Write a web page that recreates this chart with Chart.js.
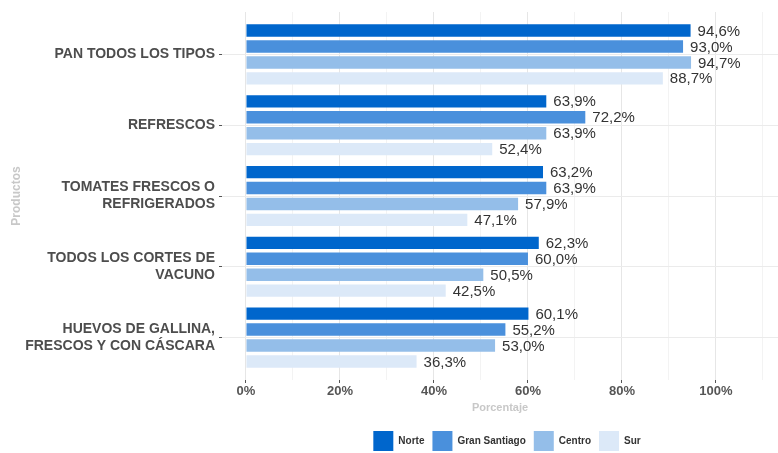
<!DOCTYPE html>
<html>
<head>
<meta charset="utf-8">
<script src="https://cdn.jsdelivr.net/npm/chart.js@4"></script>
<style>
  html, body { margin: 0; padding: 0; background: #fff; }
  #wrap { width: 778px; height: 453px; position: relative; }
</style>
</head>
<body>
<div id="wrap"><canvas id="chart"></canvas></div>
<script>
// categories (top to bottom) and one array per region
const productos = [
  "PAN TODOS LOS TIPOS",
  "REFRESCOS",
  ["TOMATES FRESCOS O", "REFRIGERADOS"],
  ["TODOS LOS CORTES DE", "VACUNO"],
  ["HUEVOS DE GALLINA,", "FRESCOS Y CON CÁSCARA"]
];
const regiones = ["Norte", "Gran Santiago", "Centro", "Sur"];
const norte        = [94.6, 63.9, 63.2, 62.3, 60.1];
const granSantiago = [93.0, 72.2, 63.9, 60.0, 55.2];
const centro       = [94.7, 63.9, 57.9, 50.5, 53.0];
const sur          = [88.7, 52.4, 47.1, 42.5, 36.3];
const colores = ["#0066cc", "#4a90dc", "#94bee9", "#dce9f8"];
const xTicks = [0, 10, 20, 30, 40, 50, 60, 70, 80, 90, 100, 110];

const series = [norte, granSantiago, centro, sur];
const FONT = '"Liberation Sans", Arial, sans-serif';

// value labels at the end of each bar
const valueLabels = {
  id: 'valueLabels',
  afterDatasetsDraw(chart) {
    const ctx = chart.ctx;
    ctx.save();
    ctx.font = '15px ' + FONT;
    ctx.fillStyle = '#333333';
    ctx.textAlign = 'left';
    ctx.textBaseline = 'middle';
    chart.data.datasets.forEach((ds, i) => {
      chart.getDatasetMeta(i).data.forEach((bar, j) => {
        const txt = ds.data[j].x.toFixed(1).replace('.', ',') + '%';
        ctx.fillText(txt, bar.x + 7, bar.y + 1);
      });
    });
    ctx.restore();
  }
};

// legend sits under the panel, not under the whole canvas
const moveLegend = {
  id: 'moveLegend',
  afterLayout(chart) {
    const lg = chart.legend;
    lg.left += 118; lg.right += 118;
    lg.top += 8; lg.bottom += 8;
  }
};

new Chart(document.getElementById('chart'), {
  type: 'bar',
  data: {
    datasets: regiones.map((r, i) => ({
      label: r,
      data: series[i].map((v, j) => ({ x: v, y: j })),
      backgroundColor: colores[i],
      borderWidth: 0,
      categoryPercentage: 0.9,
      barPercentage: 0.78
    }))
  },
  options: {
    indexAxis: 'y',
    responsive: true,
    maintainAspectRatio: false,
    animation: false,
    layout: { padding: { left: 0, right: 0, top: 12, bottom: 0 } },
    plugins: {
      legend: {
        position: 'bottom',
        labels: {
          boxWidth: 20,
          boxHeight: 20,
          padding: 8,
          color: '#333',
          font: { family: FONT, size: 10, weight: 'bold' }
        }
      },
      tooltip: { enabled: false }
    },
    scales: {
      x: {
        type: 'linear',
        min: -5.1,
        max: 113.2,
        afterBuildTicks: axis => { axis.ticks = xTicks.map(v => ({ value: v })); },
        afterFit: s => { s.height = 35; },
        border: { display: false },
        grid: {
          color: c => (c.tick && c.tick.value % 20 === 0) ? '#e6e6e6' : '#f3f3f3',
          tickColor: c => (c.tick && c.tick.value % 20 === 0) ? '#555' : 'rgba(0,0,0,0)',
          tickLength: 3
        },
        ticks: {
          autoSkip: false,
          maxRotation: 0,
          padding: 1,
          color: '#555',
          font: { family: FONT, size: 13, weight: 'bold' },
          callback: v => v % 20 === 0 ? v + '%' : ''
        },
        title: {
          display: true,
          text: 'Porcentaje',
          color: '#c8c8c8',
          padding: { top: 0, bottom: 0 },
          font: { family: FONT, size: 11, weight: 'bold' }
        }
      },
      y: {
        type: 'linear',
        reverse: true,
        offset: false,
        min: -0.6,
        max: 4.6,
        afterBuildTicks: axis => { axis.ticks = productos.map((p, i) => ({ value: i })); },
        afterFit: s => { s.width = 222; s.paddingTop = 0; s.paddingBottom = 0; },
        border: { display: false },
        grid: { offset: false, color: '#ebebeb', tickColor: '#555', tickLength: 3 },
        ticks: {
          color: '#4d4d4d',
          padding: 4,
          autoSkip: false,
          font: { family: FONT, size: 14, weight: 'bold' },
          callback: v => productos[v]
        },
        title: {
          display: true,
          text: 'Productos',
          color: '#c8c8c8',
          padding: { top: 9, bottom: 0 },
          font: { family: FONT, size: 12, weight: 'bold' }
        }
      }
    }
  },
  plugins: [valueLabels, moveLegend]
});
</script>
</body>
</html>
